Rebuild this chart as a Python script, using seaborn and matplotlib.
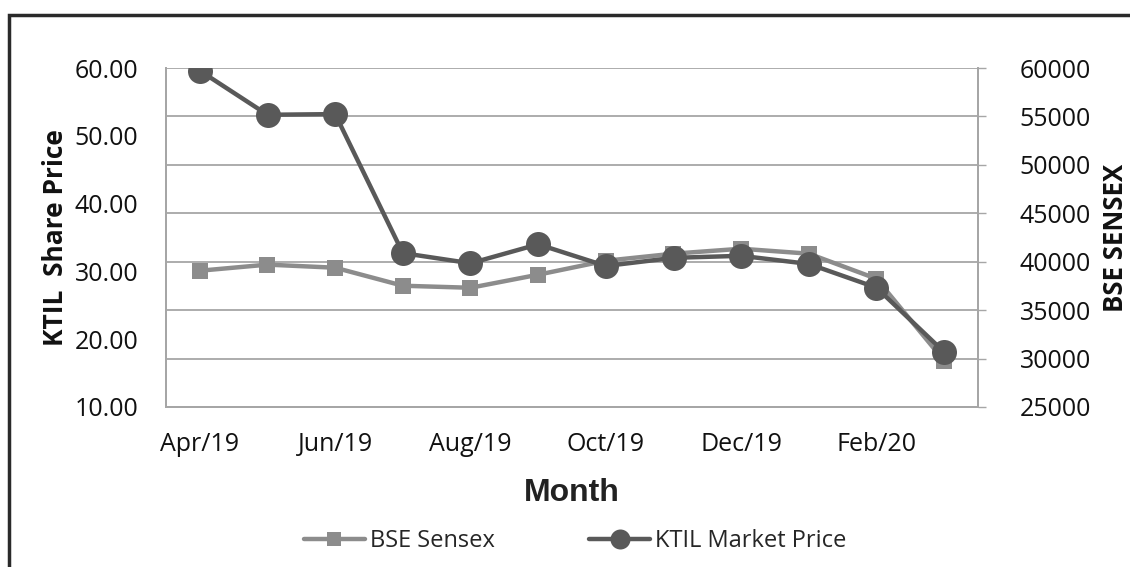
import numpy as np
import pandas as pd
import matplotlib.pyplot as plt
import seaborn as sns
from matplotlib.patches import Rectangle

months = ["Apr/19", "May/19", "Jun/19", "Jul/19", "Aug/19", "Sep/19",
          "Oct/19", "Nov/19", "Dec/19", "Jan/20", "Feb/20", "Mar/20"]
ktil_price = [59.6, 53.1, 53.2, 32.7, 31.2, 34.0, 30.8, 32.0, 32.3, 31.1, 27.6, 18.1]
bse_sensex = [39070, 39700, 39380, 37520, 37310, 38660, 40100, 40830, 41340, 40830, 38240, 29770]

left_ticks = [10, 20, 30, 40, 50, 60]
right_ticks = [25000, 30000, 35000, 40000, 45000, 50000, 55000, 60000]

sns.set_theme(style="white")
plt.rcParams['font.family'] = ['Open Sans', 'DejaVu Sans']

df = pd.DataFrame({"idx": np.arange(len(months)), "Month": months,
                   "KTIL": ktil_price, "BSE": bse_sensex})

fig = plt.figure(figsize=(11.3, 5.67), dpi=100)
ax = fig.add_axes([166 / 1130, 1 - 407 / 567, (978 - 166) / 1130, (407 - 68) / 567])
ax2 = ax.twinx()

grid_c = "#a6a6a6"
ktil_c = "#595959"
bse_c = "#8c8c8c"
txt_c = "#111111"

sns.lineplot(data=df, x="idx", y="BSE", ax=ax2, color=bse_c, lw=3.2,
             marker="s", markersize=12, markeredgewidth=0, label="BSE Sensex", legend=False)
sns.lineplot(data=df, x="idx", y="KTIL", ax=ax, color=ktil_c, lw=3.2,
             marker="o", markersize=18, markeredgewidth=0, label="KTIL Market Price", legend=False)

# KTIL on top of the sensex line, grid comes from the right axis
ax.set_zorder(ax2.get_zorder() + 1)
ax.patch.set_visible(False)

ax.set_xlim(-0.5, 11.5)
ax.set_ylim(10, 60)
ax2.set_ylim(25000, 60000)

ax.set_yticks(left_ticks)
ax.set_yticklabels([f"{v:.2f}" for v in left_ticks], fontsize=18, color=txt_c)
ax2.set_yticks(right_ticks)
ax2.set_yticklabels([str(v) for v in right_ticks], fontsize=18, color=txt_c)

ax.set_xticks(df["idx"][::2])
ax.set_xticklabels(months[::2], fontsize=18, color=txt_c)
ax.tick_params(axis="x", length=0, pad=18)
ax.tick_params(axis="y", length=0, pad=20)
ax2.tick_params(axis="y", length=6, width=1, color=grid_c, direction="out", pad=24)

ax2.yaxis.grid(True, color=grid_c, lw=1.3)
ax.grid(False)
ax2.xaxis.grid(False)

for a in (ax, ax2):
    a.spines["top"].set_visible(False)
    for side in ["left", "right", "bottom"]:
        a.spines[side].set_color(grid_c)
        a.spines[side].set_linewidth(1.3)

ax.set_xlabel("Month", fontsize=23, fontweight="bold", family=["Liberation Sans", "DejaVu Sans"],
              labelpad=15, color="#222222")
ax.set_ylabel("KTIL  Share Price", fontsize=19, fontweight="bold", labelpad=4, color=txt_c)
ax2.set_ylabel("BSE SENSEX", fontsize=18.5, fontweight="bold", labelpad=8, color=txt_c)

h2, l2 = ax2.get_legend_handles_labels()
h1, l1 = ax.get_legend_handles_labels()
fig.legend(h2 + h1, l2 + l1, loc="center", bbox_to_anchor=(575 / 1130, 1 - 541 / 567),
           ncol=2, frameon=False, fontsize=17, handlelength=2.6, columnspacing=4,
           handletextpad=0.2, markerscale=0.8)

# outer chart border (only top and left edges are visible in the crop)
fig.patches.append(Rectangle((9 / 1130, -0.1), 1.2, 1 - 15 / 567 + 0.1, transform=fig.transFigure,
                             fill=False, edgecolor="#2a2a2a", lw=2.5, zorder=10))

fig.savefig("out.png", dpi=100)
